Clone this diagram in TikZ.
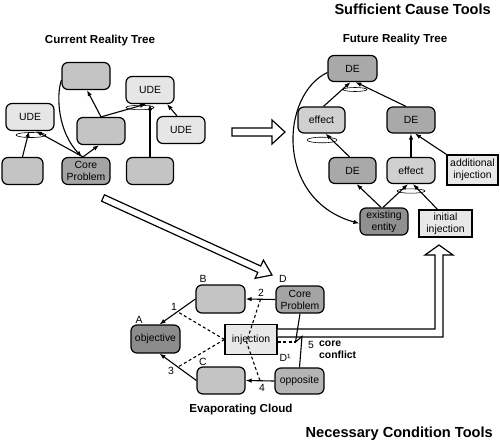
\documentclass[tikz,border=0pt]{standalone}
\usepackage{fontspec}
\setmainfont{Liberation Sans}
\usetikzlibrary{arrows.meta,calc}
\definecolor{udeC}{HTML}{E6E6E6}
\definecolor{grayC}{HTML}{C4C4C4}
\definecolor{cpC}{HTML}{A4A4A4}
\definecolor{deC}{HTML}{A9A9A9}
\definecolor{effC}{HTML}{D0D0D0}
\definecolor{exC}{HTML}{909090}
\definecolor{injC}{HTML}{E8E8E8}
\definecolor{objC}{HTML}{8C8C8C}
\definecolor{oppC}{HTML}{B4B4B4}
\begin{document}
\begin{tikzpicture}[x=1pt,y=-1pt,
  box/.style={draw,line width=1.2pt,rounded corners=6pt,minimum width=48pt,minimum height=27pt,inner sep=0pt,align=center,font=\fontsize{10.4}{12}\selectfont},
  rbox/.style={box,rounded corners=0pt},
  arr/.style={line width=1.1pt,-{Latex[length=6pt,width=4.5pt]}},
  conn/.style={line width=1.1pt},
  dsh/.style={line width=1.1pt,dash pattern=on 3pt off 2.5pt},
  andel/.style={line width=0.6pt},
  hollow/.style={draw,fill=white,line width=1.2pt,line join=miter},
  title/.style={font=\bfseries\fontsize{14.6}{16}\selectfont,inner sep=0pt},
  sub/.style={font=\bfseries\fontsize{11.6}{13}\selectfont,inner sep=0pt},
  lbl/.style={font=\fontsize{10.4}{12}\selectfont,inner sep=0pt}
]
\useasboundingbox (0,0) rectangle (500,447);

% titles
\node[title,anchor=east] (tsc) at (491,9) {Sufficient Cause Tools};
\node[title,anchor=east] (tnc) at (493,434) {Necessary Condition Tools};
\node[sub] (tcrt) at (100,41) {Current Reality Tree};
\node[sub] (tfrt) at (395,40) {Future Reality Tree};
\node[sub] (tec) at (241,410) {Evaporating Cloud};

% ---------- Current Reality Tree ----------
\node[box,fill=grayC] (crtTop) at (86,76) {};
\node[box,fill=udeC] (udeTR) at (150,90) {UDE};
\node[box,fill=udeC] (udeL) at (30,117) {UDE};
\node[box,fill=grayC] (crtMid) at (101,131) {};
\node[box,fill=udeC] (udeR) at (181,130) {UDE};
\node[box,fill=grayC,minimum width=41pt] (crtBL) at (22.5,171) {};
\node[box,fill=cpC] (crtCP) at (86,171) {Core\\Problem};
\node[box,fill=grayC,minimum width=47pt] (crtBR) at (150,171) {};

\draw[andel] (31,135) ellipse [x radius=15, y radius=2.5];
\draw[andel] (140,107.5) ellipse [x radius=14, y radius=2.2];

\draw[arr] (crtBL.north) -- ([xshift=-1pt]udeL.south);
\draw[arr] ([xshift=-3pt]crtCP.north) -- ([xshift=6pt]udeL.south);
\draw[arr] ([xshift=-3pt]crtCP.north) -- ([xshift=-2pt]crtMid.south);
\draw[arr] (crtMid.north) -- ([xshift=1pt]crtTop.south);
\draw[arr] (crtMid.north) -- ([xshift=-4pt]udeTR.south);
\draw[arr] (crtBR.north) -- (udeTR.south);
\draw[arr] ([xshift=-4pt]udeR.north) -- ([xshift=17pt]udeTR.south);
\draw[arr] ([yshift=-4pt]crtTop.west) .. controls (56,96) and (58,132) .. ([xshift=-4pt]crtCP.north);

% hollow arrow CRT -> FRT
\draw[hollow] (232,128) -- (272,128) -- (272,120) -- (285,132) -- (272,144) -- (272,136) -- (232,136) -- cycle;
% hollow arrow CRT -> EC
\draw[hollow] (101.55,201.19) -- (104.45,194.81) -- (260.71,266.01) -- (263.41,260.1) -- (272,275) -- (255.11,278.3) -- (257.81,272.39) -- cycle;

% ---------- Future Reality Tree ----------
\node[box,fill=deC,minimum width=49pt,minimum height=26pt] (deTop) at (352.5,68.5) {DE};
\node[box,fill=effC,minimum width=47pt,minimum height=26pt] (effL) at (321.5,120) {effect};
\node[box,fill=deC,minimum width=48pt,minimum height=26pt] (deR) at (411,120) {DE};
\node[box,fill=deC,minimum width=47pt,minimum height=26pt] (deM) at (352.5,170.5) {DE};
\node[box,fill=effC,minimum width=48pt,minimum height=26pt] (effR) at (411,170.5) {effect};
\node[rbox,fill=injC,minimum width=51pt,minimum height=30pt] (addInj) at (472.5,170) {additional\\injection};
\node[box,fill=exC,minimum width=48pt] (exist) at (384,221.5) {existing\\entity};
\node[rbox,fill=injC,minimum width=53pt,minimum height=27pt] (initInj) at (445.5,223.5) {initial\\injection};

\draw[andel] (355,89.5) ellipse [x radius=12, y radius=2];
\draw[andel] (322,140) ellipse [x radius=15, y radius=2.8];
\draw[andel] (411,191) ellipse [x radius=14, y radius=2.2];

\draw[arr] ([xshift=2pt]effL.north) -- ([xshift=-2pt]deTop.south);
\draw[arr] ([xshift=-5pt]deR.north) -- ([xshift=3pt]deTop.south);
\draw[arr] ([xshift=-3pt]deM.north) -- ([xshift=4pt]effL.south);
\draw[arr] (effR.north) -- (deR.south);
\draw[arr] (addInj.north west) -- ([xshift=4pt]deR.south);
\draw[arr] ([xshift=-3pt]exist.north) -- ([xshift=4pt]deM.south);
\draw[arr] ([xshift=-1pt]exist.north) -- ([xshift=-3pt]effR.south);
\draw[arr] ([xshift=-8pt]initInj.north) -- ([xshift=2pt]effR.south);
\draw[arr] ([yshift=-4pt]deTop.west) .. controls (280,95) and (275,200) .. ([yshift=-2pt]exist.west);

% ---------- Evaporating Cloud ----------
\node[box,fill=grayC,minimum width=49pt,minimum height=28pt] (ecB) at (220.5,299) {};
\node[box,fill=cpC] (ecD) at (300,299.5) {Core\\Problem};
\node[box,fill=objC,minimum width=49pt,minimum height=28pt] (obj) at (155.5,339) {objective};
\node[rbox,fill=injC,minimum width=52pt,minimum height=30pt] (inj) at (251,339.5) {injection};
\node[box,fill=grayC] (ecC) at (221,380.5) {};
\node[box,fill=oppC,minimum width=49pt,minimum height=26pt] (opp) at (299.5,381) {opposite};

\coordinate (kinkA) at (295.5,342);
\coordinate (kinkB) at (302,336.5);
\coordinate (m1) at ($(ecB.west)!0.5!([xshift=4pt]obj.north)$);
\coordinate (m3) at ($(ecC.west)!0.5!([xshift=4pt]obj.south)$);
\coordinate (m2) at ($(ecD.west)!0.5!(ecB.east)$);
\coordinate (m4) at ($(opp.west)!0.5!(ecC.east)$);
\coordinate (injv) at (246.5,342);

% double-line hollow arrow EC -> FRT
\draw[line width=1.2pt,line join=miter,fill=white] (inj.east |- 0,337) -- (443,337) -- (443,255) -- (453,255) -- (439,245) -- (425,255) -- (435,255) -- (435,329) -- (inj.east |- 0,329);

\draw[dsh] (inj.west) -- (m1);
\draw[dsh] (inj.west) -- (m3);
\draw[dsh] (m2) -- (injv) -- (m4);
\draw[dsh] (inj.east |- kinkA) -- (kinkA);

\draw[arr] (ecB.west) -- ([xshift=4pt]obj.north);
\draw[arr] (ecC.west) -- ([xshift=4pt]obj.south);
\draw[arr] (ecD.west) -- (ecB.east);
\draw[arr] (opp.west) -- (ecC.east);
\draw[conn,line join=miter] (ecD.south) -- (kinkA) -- (kinkB) -- (opp.north);

\node[lbl] (lA) at (139,320) {A};
\node[lbl] (lB) at (203,279) {B};
\node[lbl] (lC) at (203,362) {C};
\node[lbl] (lD) at (283,279) {D};
\node[lbl] (lD1) at (285,358) {D¹};
\node[lbl] (n1) at (174,307) {1};
\node[lbl] (n2) at (261,293) {2};
\node[lbl] (n3) at (171,371) {3};
\node[lbl] (n4) at (262,388) {4};
\node[lbl] (n5) at (311,345) {5};
\node[lbl,anchor=west,align=left,font=\bfseries\fontsize{10.4}{12.5}\selectfont] (cc) at (319,349.5) {core\\conflict};
\end{tikzpicture}
\end{document}
